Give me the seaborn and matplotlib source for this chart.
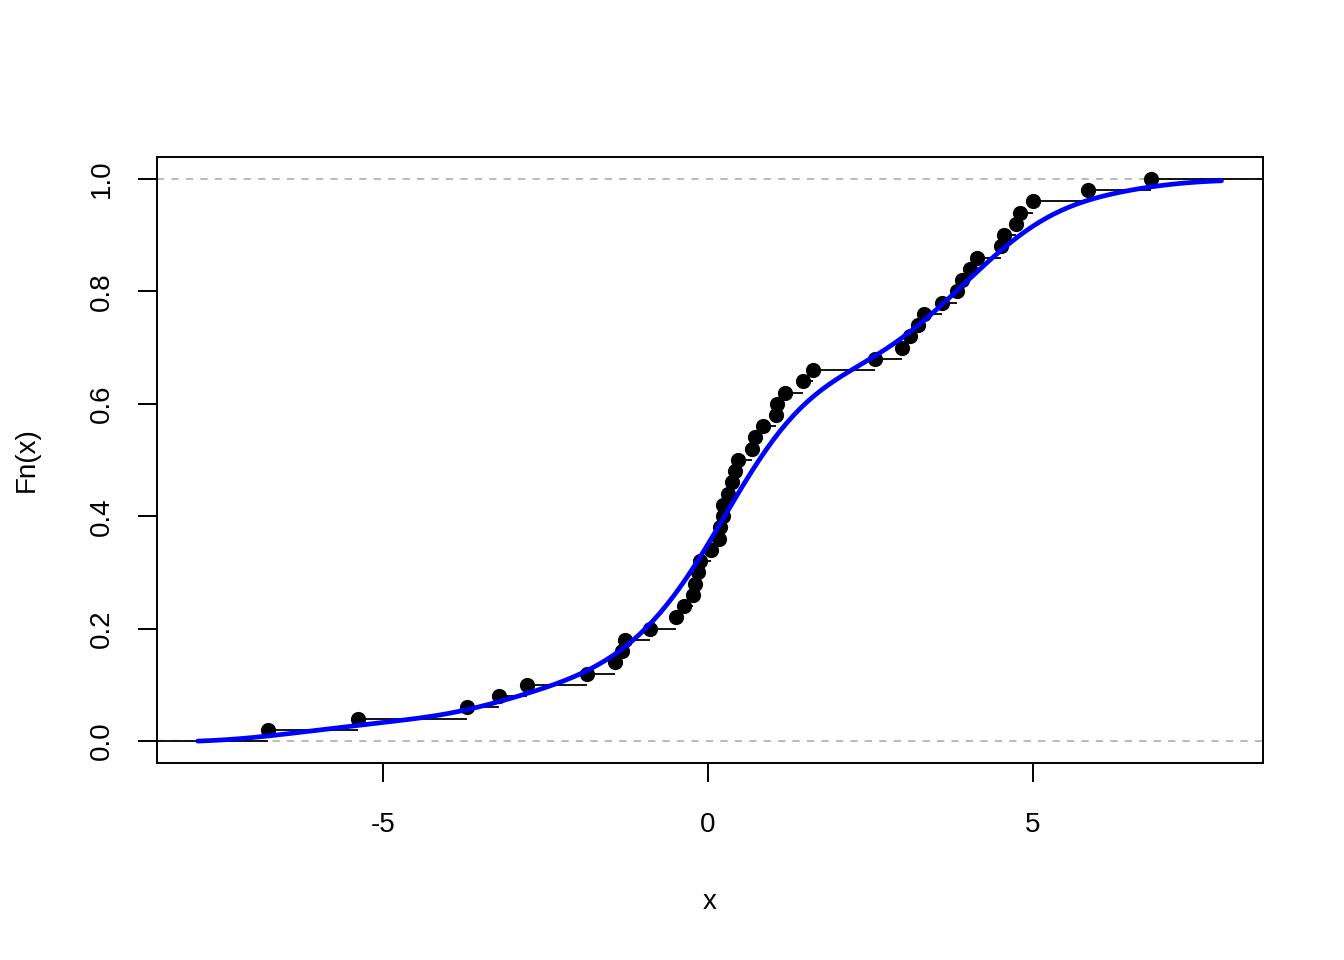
import numpy as np
import pandas as pd
import matplotlib
matplotlib.use("Agg")
import matplotlib.pyplot as plt
import seaborn as sns

# Sample values (read from the ECDF points)
x_values = [-6.77, -5.38, -3.71, -3.22, -2.78, -1.86, -1.43, -1.32, -1.28, -0.89,
            -0.49, -0.37, -0.23, -0.20, -0.15, -0.12, 0.05, 0.17, 0.18, 0.23,
            0.23, 0.31, 0.37, 0.42, 0.46, 0.68, 0.72, 0.85, 1.05, 1.06,
            1.18, 1.46, 1.62, 2.57, 2.98, 3.11, 3.23, 3.32, 3.60, 3.83,
            3.91, 4.03, 4.14, 4.51, 4.55, 4.74, 4.80, 5.00, 5.85, 6.82]
x_ticks = [-5, 0, 5]
y_ticks = [0.0, 0.2, 0.4, 0.6, 0.8, 1.0]
y_ticklabels = ["0.0", "0.2", "0.4", "0.6", "0.8", "1.0"]
curve_range = (-7.85, 7.9)

sns.set_style("white")
plt.rcParams['font.family'] = ['Liberation Sans', 'DejaVu Sans']
plt.rcParams['text.color'] = 'black'
plt.rcParams['axes.labelcolor'] = 'black'

xs = np.sort(np.array(x_values))
n = len(xs)
fn = np.arange(1, n + 1) / n
df = pd.DataFrame({"x": xs, "Fn": fn})

fig = plt.figure(figsize=(13.44, 9.6), dpi=100)
ax = fig.add_axes([0.1168, 0.2052, 0.8229, 0.6313])
xlim = (-8.477, 8.538)
ylim = (-0.039, 1.039)

# reference lines
ax.axhline(0, color="#b3b3b3", ls=(0, (4, 4)), lw=1.3, zorder=1)
ax.axhline(1, color="#b3b3b3", ls=(0, (4, 4)), lw=1.3, zorder=1)

# step segments
right_ends = np.append(xs[1:], xlim[1] + 1)
ax.hlines(fn, xs, right_ends, color="black", lw=1.3, zorder=2)
ax.hlines([0], [xlim[0] - 1], [xs[0]], color="black", lw=1.3, zorder=2)

sns.scatterplot(data=df, x="x", y="Fn", ax=ax, color="black", s=120,
                edgecolor="black", linewidth=0, zorder=3)

# smooth CDF
sns.kdeplot(x=xs, ax=ax, cumulative=True, color="#0000ff", lw=3.4,
            clip=curve_range, gridsize=300, bw_adjust=0.6, zorder=4)

ax.set_xlim(*xlim)
ax.set_ylim(*ylim)
ax.set_xticks(x_ticks)
ax.set_xticklabels([str(t) for t in x_ticks])
ax.set_yticks(y_ticks)
ax.set_yticklabels(y_ticklabels, rotation=90, va="center")
ax.tick_params(axis="both", direction="out", length=14, width=1.4, labelsize=20,
               colors="black", labelcolor="black", bottom=True, left=True)
ax.tick_params(axis="x", pad=21)
ax.tick_params(axis="y", pad=16)
for s in ax.spines.values():
    s.set_visible(True)
    s.set_color("black")
    s.set_linewidth(1.4)
ax.set_xlabel("x", fontsize=20, labelpad=37)
ax.set_ylabel("Fn(x)", fontsize=20, labelpad=36)

fig.savefig("out.png", dpi=100)
